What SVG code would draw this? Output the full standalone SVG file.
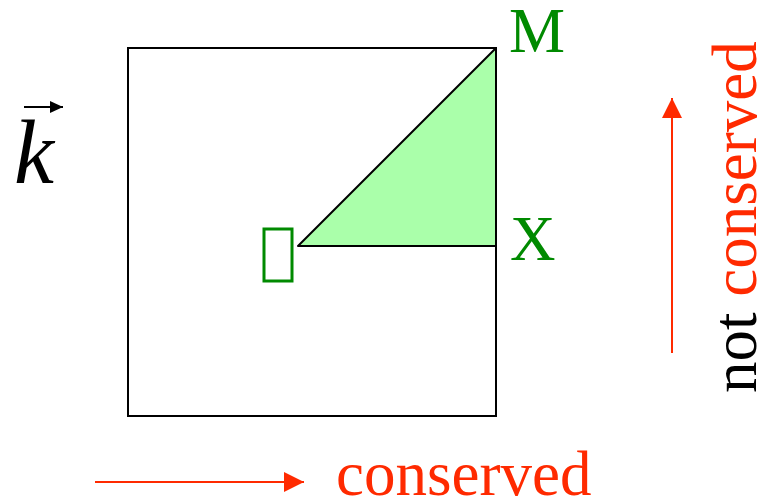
<svg xmlns="http://www.w3.org/2000/svg" width="770" height="500" viewBox="0 0 770 500">
<defs>
<marker id="redhead" viewBox="0 0 20 20" refX="20" refY="10" markerWidth="20" markerHeight="20" markerUnits="userSpaceOnUse" orient="auto"><path d="M0,0 L20,10 L0,20 Z" fill="#ff2a00"/></marker>
<marker id="blackhead" viewBox="0 0 13 12" refX="13" refY="6" markerWidth="13" markerHeight="12" markerUnits="userSpaceOnUse" orient="auto"><path d="M0,0 L13,6 L0,12 Z" fill="#000"/></marker>
</defs>
<style>
text{font-family:'Liberation Serif','DejaVu Serif',serif}
.t{font-size:63px}
.g{fill:#008a00}
.r{fill:#ff2a00}
.red{stroke:#ff2a00;stroke-width:2;fill:none}
</style>
<rect width="770" height="500" fill="#fff"/>
<g id="zone">
<rect x="128" y="48" width="368" height="368" fill="none" stroke="#000" stroke-width="2"/>
<path d="M298,246 L496,48 L496,246 Z" fill="#aaffaa" stroke="#000" stroke-width="2" stroke-linejoin="round"/>
</g>
<g id="gamma"><rect x="264" y="229" width="28" height="52" fill="none" stroke="#008a00" stroke-width="3"/></g>
<g id="M"><text class="t g" x="509" y="52">M</text></g>
<g id="X"><text class="t g" x="510" y="260">X</text></g>
<g id="k">
<text x="14" y="183" font-style="italic" font-size="90">k</text>
</g>
<g id="connectors">
<line x1="24" y1="107" x2="63" y2="107" stroke="#000" stroke-width="2" marker-end="url(#blackhead)"/>
<line class="red" x1="95" y1="482" x2="304" y2="482" marker-end="url(#redhead)"/>
<line class="red" x1="672" y1="353" x2="672" y2="98" marker-end="url(#redhead)"/>
</g>
<g id="label-conserved"><text class="t r" x="336" y="495">conserved</text></g>
<g id="label-not-conserved"><text class="t" transform="translate(756,393) rotate(-90)"><tspan fill="#000">not </tspan><tspan class="r">conserved</tspan></text></g>
</svg>
